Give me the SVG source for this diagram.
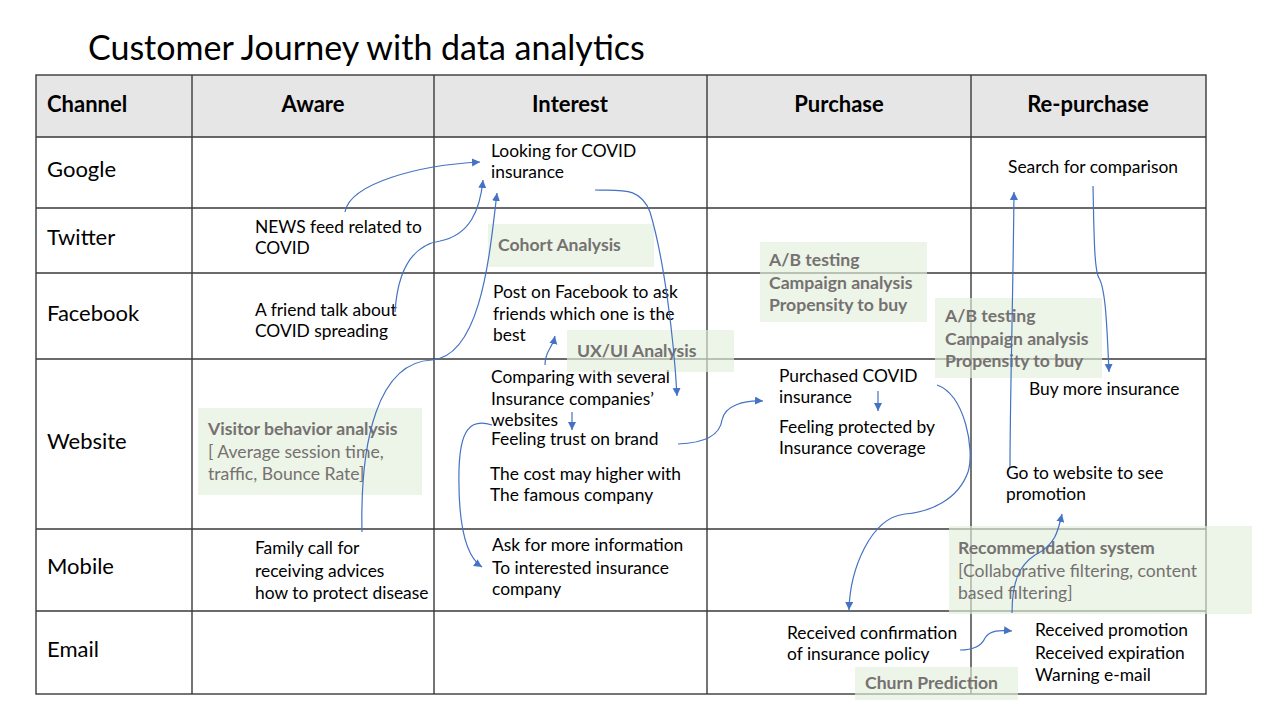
<svg xmlns="http://www.w3.org/2000/svg" width="1280" height="720" viewBox="0 0 1280 720">
<defs>
<marker id="ah" markerWidth="10" markerHeight="10" refX="8" refY="4" orient="auto" markerUnits="userSpaceOnUse">
<path d="M0,0 L8,4 L0,8 Z" fill="#4472c4"/>
</marker>
<style>
text{font-family:Lato,"Open Sans","Liberation Sans",sans-serif;fill:#000}
.t{font-size:17.4px}
.ch{font-size:22px}
.hd{font-size:22px;font-weight:bold;text-anchor:middle}
.gb{fill:#e2efda;opacity:0.65}
.gt{font-size:17.6px;font-weight:bold;fill:#767171}
.gn{font-size:17.6px;fill:#767171}
.ln{stroke:#3a3a3a;stroke-width:1.4;fill:none}
.cn{stroke:#4472c4;stroke-width:1.2;fill:none;marker-end:url(#ah)}
</style>
</defs>
<rect width="1280" height="720" fill="#fff"/>
<text x="88" y="60" style="font-size:34px">Customer Journey with data analytics</text>

<g id="table">
<rect x="36" y="75" width="1170" height="62" fill="#e7e6e6"/>
<rect class="ln" x="36" y="75" width="1170" height="619"/>
<path class="ln" d="M36,137H1206M36,208H1206M36,273H1206M36,359H1206M36,529H1206M36,611H1206M192,75V694M434,75V694M707,75V694M971,75V694"/>
<text class="hd" x="47" y="112" style="text-anchor:start">Channel</text>
<text class="hd" x="313" y="112">Aware</text>
<text class="hd" x="570" y="112">Interest</text>
<text class="hd" x="839" y="112">Purchase</text>
<text class="hd" x="1088" y="112">Re-purchase</text>
<text class="ch" x="47" y="177">Google</text>
<text class="ch" x="47" y="245">Twitter</text>
<text class="ch" x="47" y="321">Facebook</text>
<text class="ch" x="47" y="449">Website</text>
<text class="ch" x="47" y="574">Mobile</text>
<text class="ch" x="47" y="657">Email</text>
</g>

<g id="aware-news"><text class="t" x="255" y="233">NEWS feed related to</text><text class="t" x="255" y="254">COVID</text></g>
<g id="aware-friend"><text class="t" x="255" y="316">A friend talk about</text><text class="t" x="255" y="337">COVID spreading</text></g>
<g id="aware-family"><text class="t" x="255" y="554">Family call for</text><text class="t" x="255" y="577">receiving advices</text><text class="t" x="255" y="599">how to protect disease</text></g>

<g id="interest-looking"><text class="t" x="491" y="157">Looking for COVID</text><text class="t" x="491" y="178">insurance</text></g>
<g id="interest-post"><text class="t" x="493" y="298">Post on Facebook to ask</text><text class="t" x="493" y="320">friends which one is the</text><text class="t" x="493" y="341">best</text></g>
<g id="interest-compare"><text class="t" x="491" y="383">Comparing with several</text><text class="t" x="491" y="405">Insurance companies’</text><text class="t" x="491" y="426">websites</text></g>
<g id="interest-trust"><text class="t" x="491" y="445">Feeling trust on brand</text></g>
<g id="interest-cost"><text class="t" x="490" y="480">The cost may higher with</text><text class="t" x="490" y="501">The famous company</text></g>
<g id="interest-ask"><text class="t" x="492" y="551">Ask for more information</text><text class="t" x="492" y="574">To interested insurance</text><text class="t" x="492" y="595">company</text></g>

<g id="purchase-purchased"><text class="t" x="779" y="382">Purchased COVID</text><text class="t" x="779" y="403">insurance</text></g>
<g id="purchase-protected"><text class="t" x="779" y="433">Feeling protected by</text><text class="t" x="779" y="454">Insurance coverage</text></g>
<g id="purchase-confirm"><text class="t" x="787" y="639">Received confirmation</text><text class="t" x="787" y="660">of insurance policy</text></g>

<g id="re-search"><text class="t" x="1008" y="173">Search for comparison</text></g>
<g id="re-buy"><text class="t" x="1029" y="395">Buy more insurance</text></g>
<g id="re-website"><text class="t" x="1006" y="479">Go to website to see</text><text class="t" x="1006" y="500">promotion</text></g>
<g id="re-email"><text class="t" x="1035" y="636">Received promotion</text><text class="t" x="1035" y="659">Received expiration</text><text class="t" x="1035" y="681">Warning e-mail</text></g>

<g id="cohort"><rect class="gb" x="488" y="224" width="166" height="43"/><text class="gt" x="498" y="251">Cohort Analysis</text></g>
<g id="uxui"><rect class="gb" x="567" y="330" width="167" height="42"/><text class="gt" x="577" y="357">UX/UI Analysis</text></g>
<g id="ab1"><rect class="gb" x="760" y="242" width="167" height="80"/><text class="gt" x="769" y="266">A/B testing</text><text class="gt" x="769" y="289">Campaign analysis</text><text class="gt" x="769" y="311">Propensity to buy</text></g>
<g id="ab2"><rect class="gb" x="935" y="298" width="167" height="80"/><text class="gt" x="945" y="322">A/B testing</text><text class="gt" x="945" y="345">Campaign analysis</text><text class="gt" x="945" y="367">Propensity to buy</text></g>
<g id="visitor"><rect class="gb" x="198" y="408" width="224" height="87"/><text class="gt" x="208" y="435">Visitor behavior analysis</text><text class="gn" x="208" y="458">[ Average session time,</text><text class="gn" x="208" y="480">traffic, Bounce Rate]</text></g>
<g id="recommend"><rect class="gb" x="949" y="526" width="303" height="88"/><text class="gt" x="958" y="554">Recommendation system</text><text class="gn" x="958" y="577">[Collaborative filtering, content</text><text class="gn" x="958" y="599">based filtering]</text></g>
<g id="churn"><rect class="gb" x="855" y="667" width="163" height="33"/><text class="gt" x="865" y="689">Churn Prediction</text></g>

<g id="connectors">
<path class="cn" d="M345,212 C350,183 420,165 480,162"/>
<path class="cn" d="M395,312 C398,265 415,245 440,241 C470,235 480,210 483,180"/>
<path class="cn" d="M362,532 C360,440 378,362 432,360 C482,356 490,250 497,193"/>
<path class="cn" d="M595,190 C620,191 640,186 650,212 C664,258 674,340 677,396"/>
<path class="cn" d="M545,365 C545,350 552,350 555,336"/>
<path class="cn" d="M572,412 L572,430"/>
<path class="cn" d="M492,425 C470,418 460,430 459,470 C458,520 465,556 482,567"/>
<path class="cn" d="M678,444 C705,443 720,435 722,420 C725,405 745,400 763,401"/>
<path class="cn" d="M878,391 L878,411"/>
<path class="cn" d="M937,385 C965,395 975,450 968,472 C958,500 930,512 905,514 C870,518 850,570 849,610"/>
<path class="cn" d="M960,650 C975,650 982,645 985,638 C990,630 1000,630 1012,631"/>
<path class="cn" d="M1012,613 C1012,580 1020,565 1035,555 C1055,545 1058,532 1062,514"/>
<path class="cn" d="M1010,467 C1010,400 1013,300 1014,192"/>
<path class="cn" d="M1093,186 C1094,230 1094,270 1099,278 C1106,290 1107,330 1109,372"/>
</g>
</svg>
